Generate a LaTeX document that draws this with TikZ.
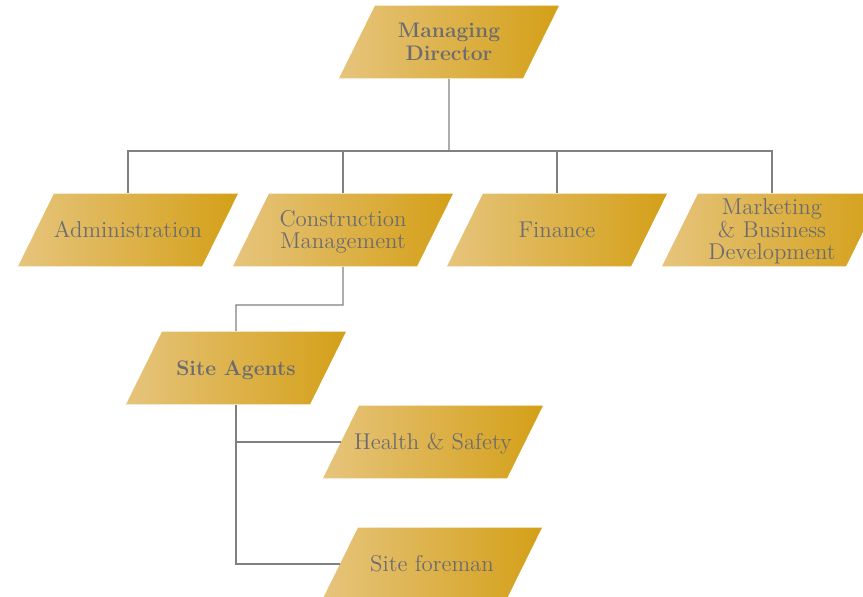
\documentclass[tikz,border=0pt]{standalone}
\usepackage{tikz}
\usetikzlibrary{shapes.geometric}
\definecolor{goldlight}{RGB}{230,196,124}
\definecolor{golddark}{RGB}{212,160,24}
\definecolor{textgray}{RGB}{108,108,112}
\definecolor{linegray}{RGB}{128,128,128}
% fixed body for every box, so all slants come out the same
\newcommand{\boxtext}[1]{\parbox[c][1.46cm]{2.96cm}{\centering\vspace*{0.1cm}
    \makebox[2.96cm]{\begin{tabular}{@{}c@{}}#1\end{tabular}}}}
\tikzset{
    box/.style={trapezium, trapezium left angle=63.7, trapezium right angle=116.3,
        inner sep=0pt, left color=goldlight, right color=golddark,
        text=textgray, font=\fontsize{13}{12}\selectfont}, % parallelogram boxes
    lead/.style={box, font=\fontsize{12}{13}\selectfont\bfseries}, % bold boxes
    link/.style={draw=linegray, line width=0.8pt} % connector lines
}
\begin{document}
\begin{tikzpicture}[x=0.02cm, y=-0.02cm]
    \def\W{863} \def\H{597}
    \useasboundingbox (0,0) rectangle (\W,\H);
    \clip (0,0) rectangle (\W,\H);

    \node[lead] (md)  at (449,42)  {\boxtext{Managing\\Director}};
    \node[box]  (adm) at (128,230) {\boxtext{Administration}};
    \node[box]  (cm)  at (343,230) {\boxtext{Construction\\Management}};
    \node[box]  (fin) at (557,230) {\boxtext{Finance}};
    \node[box]  (mkt) at (772,230) {\boxtext{Marketing\\\& Business\\Development}};
    \node[lead] (sa)  at (236,368) {\boxtext{Site Agents}};
    \node[box]  (hs)  at (433,442) {\boxtext{Health \& Safety}};
    \node[box]  (sf)  at (432,564) {\boxtext{Site foreman}};

    \coordinate (bus) at (449,151);
    \coordinate (cmsa) at (343,305);
    \draw[link] (md.south) -- (bus);
    \foreach \n in {adm,cm,fin,mkt} {\draw[link] (bus) -| (\n.north);}
    \draw[link] (cm.south) -- (cmsa) -| (sa.north);
    \draw[link] (sa.south) |- (hs.west);
    \draw[link] (sa.south) |- (sf.west);
\end{tikzpicture}
\end{document}
